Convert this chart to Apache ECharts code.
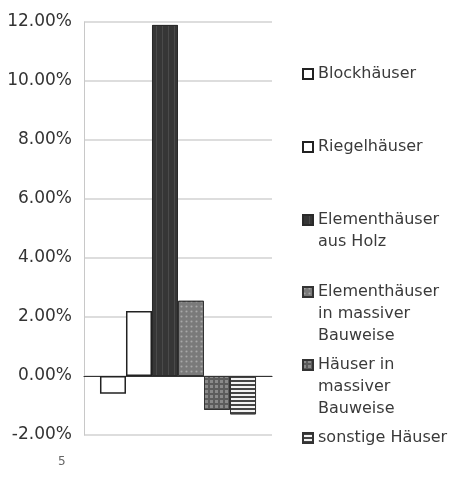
<!DOCTYPE html>
<html>
<head>
<meta charset="utf-8">
<script src="https://cdn.jsdelivr.net/npm/echarts@6/dist/echarts.min.js"></script>
<style>html,body{margin:0;padding:0;background:#fff;}#c{width:451px;height:477px;}</style>
</head>
<body>
<div id="c"></div>
<script>
var categories = [''];
var seriesNames = ['Blockhäuser', 'Riegelhäuser', 'Elementhäuser aus Holz', 'Elementhäuser in massiver Bauweise', 'Häuser in massiver Bauweise', 'sonstige Häuser'];
var legendLines = [['Blockhäuser'], ['Riegelhäuser'], ['Elementhäuser', 'aus Holz'], ['Elementhäuser', 'in massiver', 'Bauweise'], ['Häuser in', 'massiver', 'Bauweise'], ['sonstige Häuser']];
var values = [-0.6, 2.2, 11.9, 2.55, -1.15, -1.3];
var yTicks = { min: -2, max: 12, interval: 2 };

var styles = [
  { color: '#ffffff', borderColor: '#222', borderWidth: 1.5 },
  { color: '#ffffff', borderColor: '#222', borderWidth: 1.5 },
  { color: '#363636', borderColor: '#2a2a2a', borderWidth: 1,
    decal: { symbol: 'rect', symbolSize: 1, dashArrayX: [1, 5], dashArrayY: [1, 0], color: '#4a4a4a' } },
  { color: '#7a7a7a', borderColor: '#333', borderWidth: 1,
    decal: { symbol: 'circle', symbolSize: 0.7, dashArrayX: [3, 2], dashArrayY: [3, 2], color: '#a8a8a8' } },
  { color: '#5c5c5c', borderColor: '#333', borderWidth: 1,
    decal: { symbol: 'rect', symbolSize: 1, dashArrayX: [3, 2], dashArrayY: [3, 2], color: '#8a8a8a' } },
  { color: '#f2f2f2', borderColor: '#333', borderWidth: 1,
    decal: { symbol: 'rect', symbolSize: 1, dashArrayX: [1, 0], dashArrayY: [2, 2], color: '#444' } }
];

var firstLineY = [74, 147, 220, 292, 365, 438];
var LH = 22;

var chart = echarts.init(document.getElementById('c'));
var series = seriesNames.map(function (n, i) {
  return {
    name: n, type: 'bar', data: [values[i]],
    barGap: '0%', barCategoryGap: '17%',
    itemStyle: styles[i]
  };
});
var legends = seriesNames.map(function (n, i) {
  var k = legendLines[i].length;
  var pre = '';
  for (var j = 1; j < k; j++) pre += ' \n';
  return {
    data: [n], orient: 'vertical', left: 302, top: firstLineY[i] - (2 * k - 1) * LH / 2,
    padding: 0, icon: 'rect', itemWidth: 10, itemHeight: 10, itemGap: 0,
    selectedMode: false,
    formatter: function () { return pre + legendLines[i].join('\n'); },
    textStyle: { fontFamily: 'DejaVu Sans', fontSize: 16, color: '#3a3a3a', lineHeight: LH }
  };
});

chart.setOption({
  animation: false,
  backgroundColor: '#ffffff',
  grid: { left: 84, right: 179, top: 22, bottom: 42 },
  xAxis: {
    type: 'category', data: categories,
    axisLine: { onZero: true, lineStyle: { color: '#333', width: 1.2 } },
    axisTick: { show: false }, axisLabel: { show: false }
  },
  yAxis: {
    type: 'value', min: yTicks.min, max: yTicks.max, interval: yTicks.interval,
    axisLine: { show: true, lineStyle: { color: '#c8c8c8' } },
    axisTick: { show: false },
    splitLine: { lineStyle: { color: '#d2d2d2', width: 1.5 } },
    axisLabel: { fontFamily: 'DejaVu Sans', fontSize: 17, color: '#333', margin: 12,
      formatter: function (v) { return v.toFixed(2) + '%'; } }
  },
  legend: legends,
  graphic: [{ type: 'text', left: 58, top: 456, style: { text: '5', fontFamily: 'DejaVu Sans', fontSize: 12, fill: '#666' } }],
  series: series
});
</script>
</body>
</html>
